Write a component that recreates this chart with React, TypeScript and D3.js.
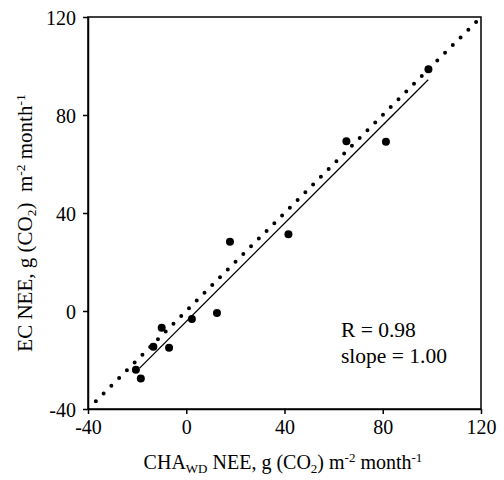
import React, { useEffect, useRef } from 'react';
import * as d3 from 'd3';

// measured NEE pairs, g CO2 m-2 month-1
const chaWd = [-20.5, -18.5, -13.4, -10, -7, 2.3, 12.5, 17.8, 41.6, 65.2, 81.3, 98.6];
const ecNee = [-24, -27.5, -14.6, -6.8, -15, -3.3, -0.8, 28.3, 31.3, 69.3, 69.1, 98.7];

// regression line end points and 1:1 line end points
const fitX = [-19, 98.5];
const fitY = [-23.3, 94.4];
const oneToOne = [-36.8, 118];

const xTicks = [-40, 0, 40, 80, 120];
const yTicks = [-40, 0, 40, 80, 120];

const W = 504;
const H = 480;
const left = 88, right = 481, top = 17, bottom = 409;
const font = '"Liberation Serif", "Times New Roman", serif';

export default function App() {
  const ref = useRef<SVGSVGElement>(null);

  useEffect(() => {
    const svg = d3.select(ref.current);
    svg.selectAll('*').remove();

    const x = d3.scaleLinear().domain([-40, 120]).range([left, right]);
    const y = d3.scaleLinear().domain([-40, 120]).range([bottom, top]);

    // frame
    svg.append('rect')
      .attr('x', left).attr('y', top)
      .attr('width', right - left).attr('height', bottom - top)
      .attr('fill', 'none').attr('stroke', '#000').attr('stroke-width', 1.5);

    const fmt = (d: d3.NumberValue) => String(d);
    const xAxis = svg.append('g')
      .attr('transform', `translate(0,${bottom})`)
      .call(d3.axisBottom(x).tickValues(xTicks).tickFormat(fmt).tickSize(5).tickSizeOuter(0).tickPadding(6));
    const yAxis = svg.append('g')
      .attr('transform', `translate(${left},0)`)
      .call(d3.axisLeft(y).tickValues(yTicks).tickFormat(fmt).tickSize(5).tickSizeOuter(0).tickPadding(7));

    [xAxis, yAxis].forEach(a => {
      a.select('.domain').attr('stroke-width', 1.5);
      a.selectAll('.tick line').attr('stroke-width', 1.5);
      a.selectAll('text')
        .attr('font-family', font)
        .attr('font-size', 20)
        .attr('fill', '#000');
    });
    yAxis.selectAll('text').attr('dy', '0.35em');

    // 1:1 dotted line, 49 gaps between dots
    const line = d3.line<number>().x(d => x(d)).y(d => y(d));
    const diag = svg.append('path')
      .attr('d', line(oneToOne))
      .attr('fill', 'none')
      .attr('stroke', '#000')
      .attr('stroke-width', 4)
      .attr('stroke-linecap', 'round');
    const len = (diag.node() as SVGPathElement).getTotalLength();
    diag.attr('stroke-dasharray', `0,${len / 49}`);

    // regression line
    const fit = d3.line<number>().x(d => x(d)).y((_, i) => y(fitY[i]));
    svg.append('path')
      .attr('d', fit(fitX))
      .attr('fill', 'none')
      .attr('stroke', '#000')
      .attr('stroke-width', 1.3);

    // points
    svg.append('g').selectAll('circle')
      .data(chaWd)
      .join('circle')
      .attr('cx', d => x(d))
      .attr('cy', (_, i) => y(ecNee[i]))
      .attr('r', 4)
      .attr('fill', '#000');

    // stats
    const stats = svg.append('text')
      .attr('font-family', font).attr('font-size', 21.5).attr('fill', '#000');
    stats.append('tspan').attr('x', 341).attr('y', 337).text('R = 0.98');
    stats.append('tspan').attr('x', 341).attr('y', 363).text('slope = 1.00');

    // x label
    const xl = svg.append('text')
      .attr('x', 283).attr('y', 469)
      .attr('text-anchor', 'middle')
      .attr('font-family', font).attr('font-size', 20).attr('fill', '#000');
    xl.append('tspan').text('CHA');
    xl.append('tspan').attr('font-size', 13).attr('dy', 4).text('WD');
    xl.append('tspan').attr('dy', -4).text(' NEE, g (CO');
    xl.append('tspan').attr('font-size', 13).attr('dy', 4).text('2');
    xl.append('tspan').attr('dy', -4).text(') m');
    xl.append('tspan').attr('font-size', 13).attr('dy', -7).text('-2');
    xl.append('tspan').attr('dy', 7).text(' month');
    xl.append('tspan').attr('font-size', 13).attr('dy', -7).text('-1');

    // y label
    const yl = svg.append('text')
      .attr('transform', `translate(32,223) rotate(-90)`)
      .attr('text-anchor', 'middle')
      .attr('font-family', font).attr('font-size', 21).attr('fill', '#000');
    yl.append('tspan').text('EC NEE, g (CO');
    yl.append('tspan').attr('font-size', 13.5).attr('dy', 4).text('2');
    yl.append('tspan').attr('dy', -4).text(')\u00a0 m');
    yl.append('tspan').attr('font-size', 13.5).attr('dy', -7).text('-2');
    yl.append('tspan').attr('dy', 7).text(' month');
    yl.append('tspan').attr('font-size', 13.5).attr('dy', -7).text('-1');
  }, []);

  return (
    <svg ref={ref} width={W} height={H}
      style={{ position: 'absolute', left: 0, top: 0, background: '#fff' }} />
  );
}
